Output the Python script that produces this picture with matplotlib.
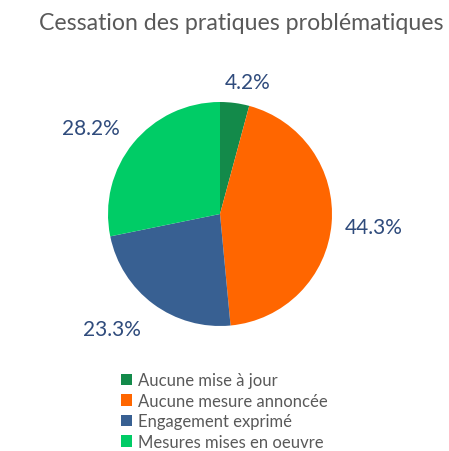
import matplotlib
matplotlib.use("Agg")
import matplotlib.pyplot as plt
import numpy as np
from matplotlib.patches import Patch

plt.rcParams['font.family'] = ['Lato', 'DejaVu Sans']

title = "Cessation des pratiques problématiques"
categories = ["Aucune mise à jour", "Aucune mesure annoncée", "Engagement exprimé", "Mesures mises en oeuvre"]
values = [4.2, 44.3, 23.3, 28.2]
colors = ["#138a4a", "#ff6600", "#386092", "#00cc66"]
label_dist = [1.205, 1.38, 1.41, 1.39]
label_shift = [-4.1, 0.1, -6.8, 5.6]

W, H = 449, 452
fig = plt.figure(figsize=(W / 100, H / 100), dpi=100)
cx, cy, r = 220, 215, 112
ax = fig.add_axes([(cx - r) / W, (H - cy - r) / H, 2 * r / W, 2 * r / H])
wedges, _ = ax.pie(values, colors=colors, startangle=90, counterclock=False,
                   wedgeprops=dict(linewidth=0))
ax.set_xlim(-1, 1)
ax.set_ylim(-1, 1)
ax.set_aspect("equal")

for w, v, d, s in zip(wedges, values, label_dist, label_shift):
    ang = np.deg2rad((w.theta1 + w.theta2) / 2 + s)
    ax.text(d * np.cos(ang), d * np.sin(ang), f"{v:.1f}%", ha="center", va="center",
            fontsize=15, color="#2f4b7c", clip_on=False)

fig.text(241.5 / W, 1 - 24 / H, title, ha="center", va="center", fontsize=16.7, color="#595959")

handles = [Patch(facecolor=c, edgecolor="none") for c in colors]
fig.legend(handles, categories, loc="upper left", bbox_to_anchor=(113 / W, 1 - 365 / H),
           frameon=False, fontsize=12, labelcolor="#595959", handlelength=0.65, handleheight=0.65,
           handletextpad=0.35, labelspacing=0.27, borderpad=0)

fig.savefig("out.png", dpi=100)
